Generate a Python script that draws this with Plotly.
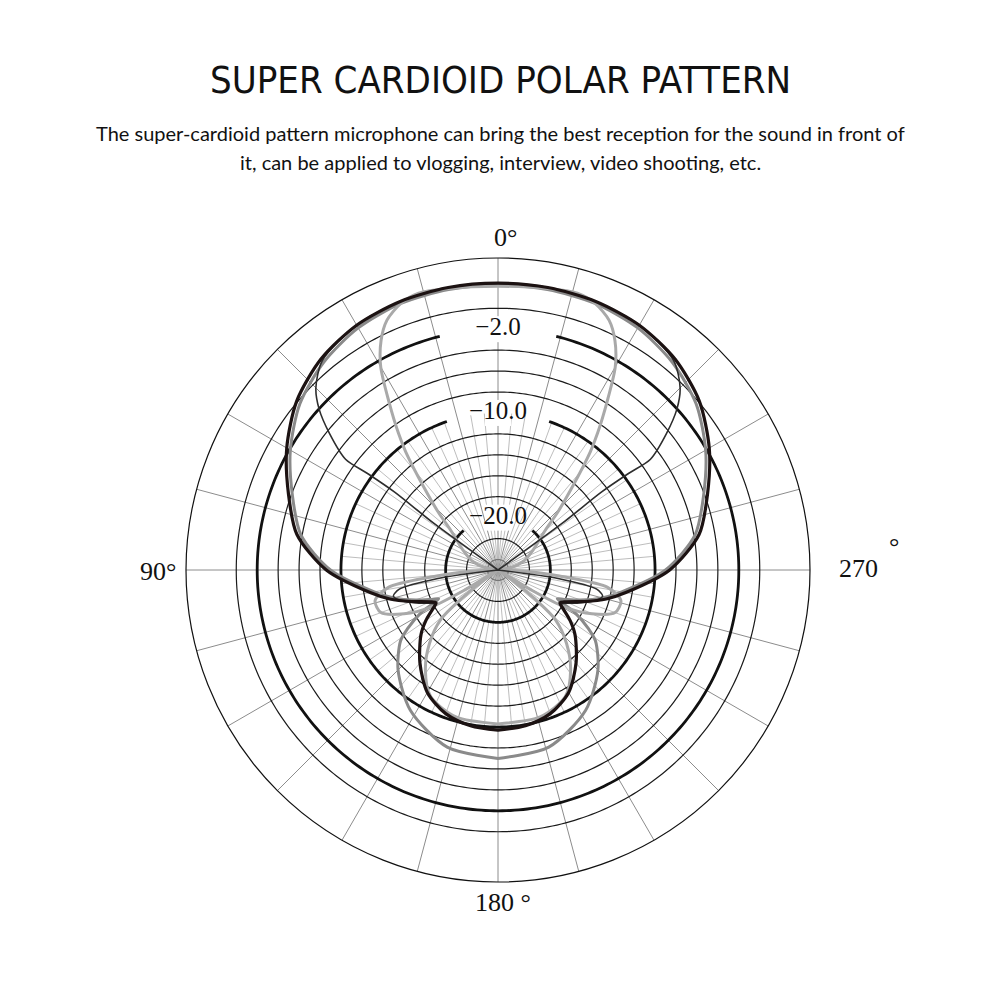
import plotly.graph_objects as go
import numpy as np

# ---------------- data (dB); patterns are symmetric, given for 0..180 deg
main_ang = [0, 10, 20, 30, 40, 50, 60, 70, 80, 90, 100, 105, 110, 115, 118, 121, 125, 130, 140, 150, 160, 170, 180]
main_db = [2.4, 2.4, 2.3, 2.0, 1.3, 0.1, -1.7, -3.7, -5.5, -8.6, -12.6, -14.3, -16.2, -17.8, -18.3, -17.7,
           -16.6, -15.4, -13.4, -11.5, -10.4, -9.9, -9.7]

light_ang = [0, 10, 16, 20, 24, 27, 30, 33, 36, 38, 42, 46, 50, 60, 70, 80, 88,
             92, 94, 96, 99, 104, 110, 115, 119, 121, 123,
             126, 128, 131, 137, 144, 152, 164, 180]
light_db = [2.1, 2.3, 2.5, 2.1, 1.1, -0.4, -2.6, -5.9, -8.8, -10.7, -14.5, -17.1, -19.1, -21.1, -22.3, -23.7, -25.0,
            -23.5, -21.1, -18.6, -14.4, -12.9, -13.1, -15.1, -17.7, -21.2, -25.0,
            -23.0, -20.7, -17.7, -15.4, -13.2, -11.3, -10.4, -10.3]

mid_ang = [0, 10, 20, 30, 40, 50, 60, 70, 80, 90, 100, 105, 110, 114, 116, 119, 123, 126, 135, 148, 164, 180]
mid_db = [2.2, 2.2, 2.1, 1.7, 0.9, -0.3, -2.1, -4.1, -5.9, -9.0, -13.0, -14.7, -16.6, -18.1, -18.7,
          -16.6, -14.7, -13.5, -11.5, -9.2, -7.4, -7.0]

thin_ang = [0, 10, 20, 30, 40, 45, 48, 51, 54, 53.5, 53, 54, 60, 95, 98, 101, 104, 108, 113, 118, 121, 125,
            130, 140, 150, 160, 170, 180]
thin_db = [2.4, 2.4, 2.3, 2.0, 1.1, -0.4, -2.0, -4.3, -7.0, -9.5, -12.6, -17.6, -25.0, -25.0, -19.2, -15.4,
           -14.7, -15.4, -16.9, -18.1, -17.7, -16.6, -15.4, -13.4, -11.5, -10.4, -9.9, -9.7]

ring_thin = [-24, -22, -18, -16, -14, -12, -8, -6, -4, 0]
ring_thick = [-20, -10, -2]
ring_labels = ["−20.0", "−10.0", "−2.0"]
ring_gap = [41, 19, 14]          # half-angle of the gap left for each label (deg)
spoke_major = list(range(0, 360, 15))
spoke_minor = [a for a in range(0, 360, 5) if a % 15]
R_MIN, R_MAX = -25.0, 4.8
angle_labels = ["0°", "90°", "270", "°", "180 °"]


def full_closed(ang, val):
    """mirror a 0..180 half pattern onto 180..360"""
    th = list(ang) + [360 - a for a in reversed(ang)]
    rv = list(val) + list(reversed(val))
    return th, rv


fig = go.Figure()

# ---- grid: spokes
sx, sy = [], []
for a in spoke_major:
    sx += [R_MIN, R_MAX, None]
    sy += [a, a, None]
fig.add_trace(go.Scatterpolar(r=sx, theta=sy, mode="lines", line=dict(color="#8c8c8c", width=1),
                              hoverinfo="skip", showlegend=False))
sx, sy = [], []
for a in spoke_minor:
    sx += [R_MIN, -10, None]
    sy += [a, a, None]
fig.add_trace(go.Scatterpolar(r=sx, theta=sy, mode="lines", line=dict(color="#a0a0a0", width=0.7),
                              hoverinfo="skip", showlegend=False))

# ---- grid: rings
circ = np.arange(0, 360.5, 1.0)
for rv in ring_thin:
    fig.add_trace(go.Scatterpolar(r=[rv] * len(circ), theta=circ, mode="lines",
                                  line=dict(color="#1a1a1a" if rv > -24 else "#777", width=1.2),
                                  hoverinfo="skip", showlegend=False))
for rv, g in zip(ring_thick, ring_gap):
    arc = np.arange(g, 360 - g + 0.5, 1.0)
    fig.add_trace(go.Scatterpolar(r=[rv] * len(arc), theta=arc, mode="lines",
                                  line=dict(color="#111", width=2.8),
                                  hoverinfo="skip", showlegend=False))

# ---- patterns
for ang, val, col, w in [(mid_ang, mid_db, "#8a8a8a", 3),
                         (light_ang, light_db, "#a9a9a9", 3),
                         (thin_ang, thin_db, "#2e2e2e", 1.6),
                         (main_ang, main_db, "#1c1212", 3.2)]:
    th, rv = full_closed(ang, val)
    fig.add_trace(go.Scatterpolar(r=rv, theta=th, mode="lines",
                                  line=dict(color=col, width=w, shape="spline", smoothing=0.8),
                                  showlegend=False))

# ---- ring labels (white box behind text hides the 0 deg spoke)
fig.add_trace(go.Scatterpolar(r=ring_thick, theta=[0, 0, 0], mode="markers", hoverinfo="skip",
                              marker=dict(symbol="square", size=26, color="white"), showlegend=False))
fig.add_trace(go.Scatterpolar(r=ring_thick, theta=[0, 0, 0], mode="text", text=ring_labels,
                              textfont=dict(family="Liberation Serif", size=25, color="#111"),
                              hoverinfo="skip", showlegend=False))


def ann(text, x, y, family, size):
    return dict(text=text, x=x, y=y, xref="paper", yref="paper", showarrow=False,
                xanchor="center", yanchor="middle", font=dict(family=family, size=size, color="#111"))


fig.update_layout(
    width=1000, height=1000, margin=dict(l=0, r=0, t=0, b=0),
    paper_bgcolor="white", plot_bgcolor="white",
    polar=dict(
        domain=dict(x=[0.178, 0.802], y=[0.126, 0.750]),
        bgcolor="white",
        radialaxis=dict(range=[R_MIN, R_MAX], showgrid=False, showticklabels=False, showline=False, ticks=""),
        angularaxis=dict(rotation=90, direction="counterclockwise", showgrid=False, showticklabels=False,
                         ticks="", showline=True, linecolor="#111", linewidth=1.2),
    ),
    annotations=[
        ann("SUPER CARDIOID POLAR PATTERN", 0.492, 0.928, "DejaVu Sans Condensed", 38),
        ann("The super-cardioid pattern microphone can bring the best reception for the sound in front of",
            0.492, 0.875, "Lato", 20),
        ann("it, can be applied to vlogging, interview, video shooting, etc.", 0.492, 0.846, "Lato", 20),
        ann(angle_labels[0], 0.497, 0.770, "Liberation Serif", 26),
        ann(angle_labels[1], 0.150, 0.437, "Liberation Serif", 26),
        ann(angle_labels[2], 0.850, 0.440, "Liberation Serif", 26),
        ann(angle_labels[3], 0.886, 0.462, "Liberation Serif", 26),
        ann(angle_labels[4], 0.495, 0.106, "Liberation Serif", 26),
    ],
)

fig.write_html("out.html")
